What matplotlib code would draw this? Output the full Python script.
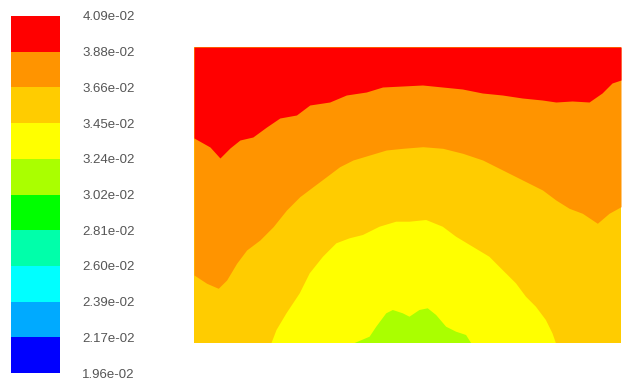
import numpy as np
import matplotlib
matplotlib.use("Agg")
import matplotlib.pyplot as plt

# --- colour scale (Fluent style contour levels) ---
levels = [1.96e-02, 2.17e-02, 2.39e-02, 2.60e-02, 2.81e-02, 3.02e-02,
          3.24e-02, 3.45e-02, 3.66e-02, 3.88e-02, 4.09e-02]
band_colors = ['#0000ff', '#00aaff', '#00ffff', '#00ffaa', '#00ff00',
               '#aaff00', '#ffff00', '#ffcc00', '#ff9400', '#ff0000']

# --- contour boundaries (x, height from bottom) ---
# red / orange
b1_x = [0, 16, 26, 36, 46, 59, 72.7, 86, 102.7, 116, 136, 152.7, 172.7, 189,
        209, 229, 249, 269, 289, 309, 329, 349, 362.7, 379, 396, 409, 419, 428]
b1_y = [205, 196, 185, 195, 203, 206, 216, 225, 228, 238, 241, 248, 251, 256,
        257, 258, 256, 254, 250, 248, 245, 243, 241, 242, 241, 250, 260, 263]
# orange / amber
b2_x = [0, 12.7, 24.3, 32.7, 42.7, 52.7, 66, 79.3, 92.7, 106, 119.3, 132.7,
        146, 159.3, 176, 192.7, 209.3, 229.3, 249.3, 269.3, 289.3, 309.3,
        329.3, 349.3, 362.7, 376, 389.3, 404.3, 416, 428]
b2_y = [68, 59.7, 54.7, 63, 79.7, 93, 103, 116.3, 133, 146.3, 156.3, 166.3,
        176.3, 183, 188, 193, 194.7, 196.3, 194.7, 189.7, 183, 173, 163, 153,
        143, 134.7, 129.7, 119.7, 129.7, 136.3]
# amber / yellow dome
b3_x = [77.7, 82.7, 92.7, 106, 116, 129.3, 142.7, 156, 169.3, 186, 202.7, 216,
        232.7, 249.3, 262.7, 279.3, 296, 309.3, 322.7, 332.7, 342.7, 352.7,
        359.3, 362.7]
b3_y = [0, 13, 29.7, 49.7, 69.7, 86.3, 99.7, 104.7, 108, 116.3, 121.3, 121.3,
        123, 116.3, 106.3, 96.3, 86.3, 73, 59.7, 46.3, 36.3, 23, 9.7, 0]
# yellow / lime patch
b4_x = [161, 176, 182.7, 192.7, 199.3, 209.3, 216, 226, 234.3, 242.7, 252.7,
        262.7, 272.7, 277.7]
b4_y = [0, 6.3, 16.3, 29.7, 33, 29.7, 26.3, 33, 34.7, 28, 16.3, 11.3, 8, 0]

W, H = 428, 296

fig = plt.figure(figsize=(6.22, 3.79), dpi=100)

# --- main contour view ---
ax = fig.add_axes([194 / 622, 36 / 379, 427 / 622, 296 / 379])
ax.set_xlim(0, W)
ax.set_ylim(0, H)
ax.axis('off')
ax.fill_between([0, W], 0, H, color=band_colors[7], lw=0)
ax.fill_between(b2_x, b2_y, H, color=band_colors[8], lw=0)
ax.fill_between(b1_x, b1_y, H, color=band_colors[9], lw=0)
ax.fill(b3_x, b3_y, color=band_colors[6], lw=0)
ax.fill(b4_x, b4_y, color=band_colors[5], lw=0)

# --- colour bar ---
cax = fig.add_axes([11 / 622, 6 / 379, 49 / 622, 357 / 379])
idx = np.arange(len(band_colors))
cax.bar(0, 1, bottom=idx, color=band_colors, width=1, align='center')
cax.set_xlim(-0.5, 0.5)
cax.set_ylim(0, len(band_colors))
cax.set_xticks([])
cax.yaxis.tick_right()
cax.set_yticks(np.arange(len(levels)))
cax.set_yticklabels([f"{v:.2e}" for v in levels], fontsize=9.5,
                    color='#555555', family='Liberation Sans')
cax.tick_params(axis='y', length=0, pad=16)
for s in cax.spines.values():
    s.set_visible(False)

plt.savefig('out.png', dpi=100)
